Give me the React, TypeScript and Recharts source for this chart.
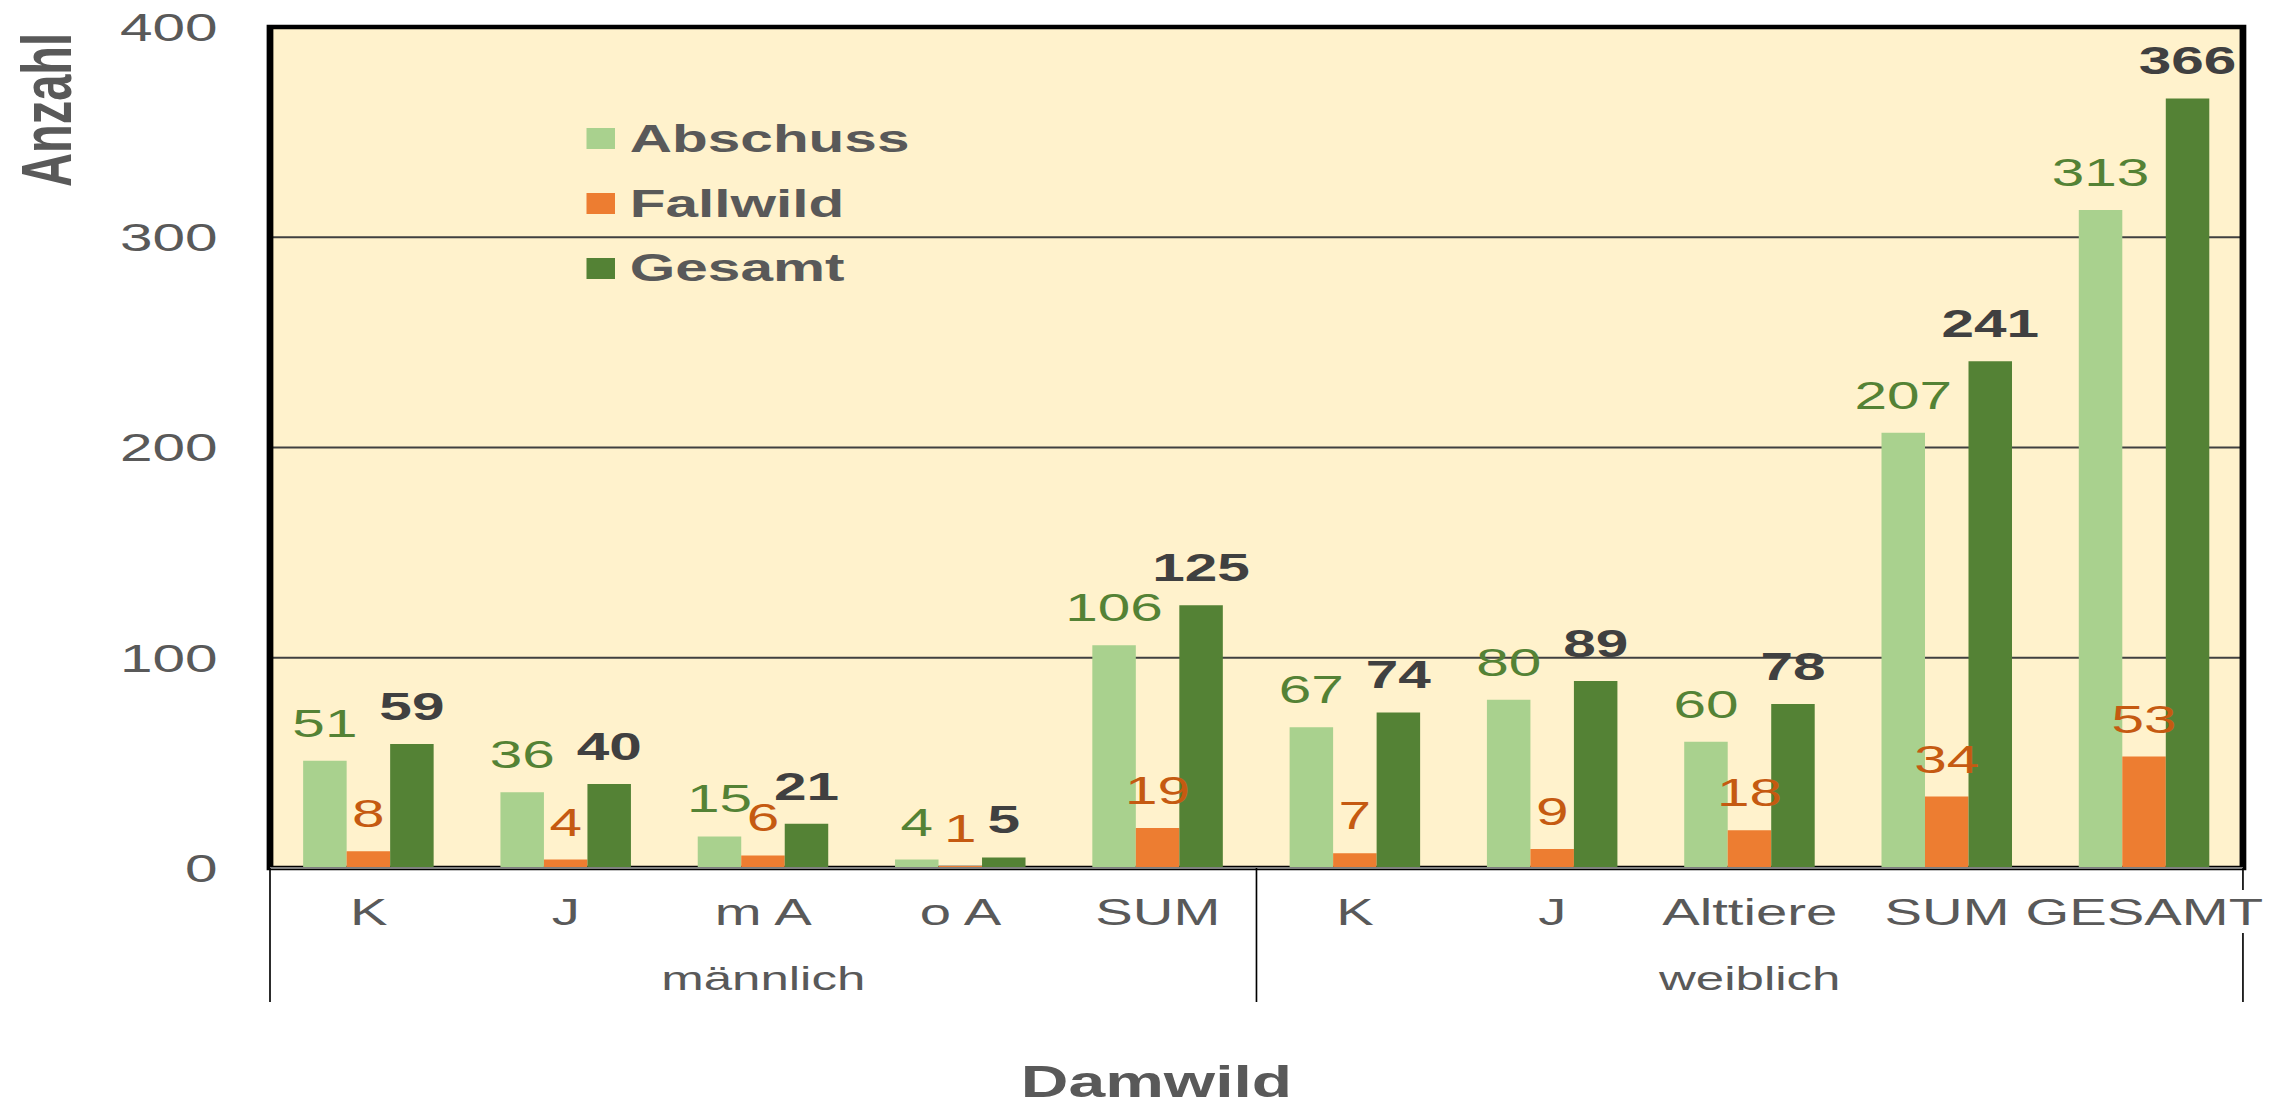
import { BarChart, Bar, XAxis, YAxis, CartesianGrid, LabelList, Legend, ReferenceArea } from "recharts";

const categories = ["K", "J", "m A", "o A", "SUM", "K", "J", "Alttiere", "SUM", "GESAMT"];
const abschuss = [51, 36, 15, 4, 106, 67, 80, 60, 207, 313];
const fallwild = [8, 4, 6, 1, 19, 7, 9, 18, 34, 53];
const gesamt = [59, 40, 21, 5, 125, 74, 89, 78, 241, 366];
const groups = [
  { label: "männlich", start: 0, count: 5 },
  { label: "weiblich", start: 5, count: 5 },
];
const yTicks = [0, 100, 200, 300, 400];

const data = categories.map((cat, i) => ({
  cat,
  Abschuss: abschuss[i],
  Fallwild: fallwild[i],
  Gesamt: gesamt[i],
}));

// the reference is stretched sideways, so draw narrow and scale the whole chart
const STRETCH = 1.5;
const W = 2277 / STRETCH;
const H = 1110;
const MARGIN = { top: 27, right: 22.7, bottom: 0, left: 0 };
const Y_W = 180;
const PLOT_W = W - MARGIN.left - MARGIN.right - Y_W;
const FONT = "'Liberation Sans', Arial, sans-serif";
const GREY = "#595959";

function CategoryTick(props: any) {
  const { x, y, payload, index } = props;
  const band = PLOT_W / categories.length;
  const group = groups.find(g => index === g.start + Math.floor(g.count / 2));
  const starts = groups.some(g => g.start === index);
  const last = index === categories.length - 1;
  return (
    <g>
      <text x={x} y={y + 57} textAnchor="middle" fontSize={37.5} fill={GREY} fontFamily={FONT}>
        {payload.value}
      </text>
      {group && (
        <text x={x} y={y + 122} textAnchor="middle" fontSize={34} fill={GREY} fontFamily={FONT}>
          {group.label}
        </text>
      )}
      {starts && <line x1={x - band / 2} x2={x - band / 2} y1={y} y2={y + 134} stroke="#000" strokeWidth={1.1} />}
      {last && (
        <>
          <line x1={x + band / 2} x2={x + band / 2} y1={y} y2={y + 22} stroke="#000" strokeWidth={1.1} />
          <line x1={x + band / 2} x2={x + band / 2} y1={y + 65} y2={y + 134} stroke="#000" strokeWidth={1.1} />
        </>
      )}
    </g>
  );
}

function LegendBox(props: any) {
  const items = props.payload || [];
  return (
    <div style={{ display: "flex", flexDirection: "column", fontFamily: FONT }}>
      {items.map((it: any) => (
        <div key={it.value} style={{ height: 64.7, display: "flex", alignItems: "center" }}>
          <span style={{ width: 18.9, height: 21, background: it.color, marginRight: 10, display: "inline-block" }} />
          <span style={{ fontSize: 39, fontWeight: 700, color: GREY }}>{it.value}</span>
        </div>
      ))}
    </div>
  );
}

export default function App() {
  return (
    <div
      style={{
        position: "absolute",
        left: 0,
        top: 0,
        width: W,
        height: H,
        background: "#fff",
        transform: `scaleX(${STRETCH})`,
        transformOrigin: "0 0",
      }}
    >
      <BarChart width={W} height={H} data={data} margin={MARGIN} barCategoryGap="16.8%" barGap={0}>
        <CartesianGrid vertical={false} fill="#FFF2CC" fillOpacity={1} stroke="#404040" strokeWidth={2} />
        <XAxis
          dataKey="cat"
          height={242}
          interval={0}
          tickLine={false}
          tickSize={0}
          tickMargin={0}
          axisLine={{ stroke: "#7f7f7f", strokeWidth: 2 }}
          tick={<CategoryTick />}
          label={{
            content: () => (
              <text x={771} y={1097} textAnchor="middle" fontSize={44} fontWeight={700} fill={GREY} fontFamily={FONT}>
                Damwild
              </text>
            ),
          }}
        />
        <YAxis
          width={Y_W}
          domain={[0, 400]}
          ticks={yTicks}
          interval={0}
          tickLine={false}
          axisLine={false}
          tickSize={33}
          tickMargin={2}
          tick={{ fontSize: 39, fill: GREY, fontFamily: FONT }}
          label={{
            content: () => (
              <text
                x={31}
                y={110}
                transform="rotate(-90 31 110)"
                textAnchor="middle"
                dominantBaseline="central"
                fontSize={47}
                fontWeight={700}
                fill={GREY}
                fontFamily={FONT}
              >
                Anzahl
              </text>
            ),
          }}
        />
        <Legend
          layout="vertical"
          align="center"
          verticalAlign="middle"
          content={<LegendBox />}
          wrapperStyle={{ left: 391, top: 106.6, width: 400 }}
        />
        <Bar dataKey="Abschuss" fill="#A9D18E" isAnimationActive={false}>
          <LabelList dataKey="Abschuss" position="top" offset={24} fill="#548235" fontSize={39} fontFamily={FONT} />
        </Bar>
        <Bar dataKey="Fallwild" fill="#ED7D31" isAnimationActive={false}>
          <LabelList dataKey="Fallwild" position="top" offset={24} fill="#C55A11" fontSize={39} fontFamily={FONT} />
        </Bar>
        <Bar dataKey="Gesamt" fill="#548235" isAnimationActive={false}>
          <LabelList
            dataKey="Gesamt"
            position="top"
            offset={24}
            fill="#404040"
            fontSize={39}
            fontWeight={700}
            fontFamily={FONT}
          />
        </Bar>
        <ReferenceArea y1={0} y2={400} fill="none" stroke="#000" strokeWidth={4.5} ifOverflow="visible" />
      </BarChart>
    </div>
  );
}
